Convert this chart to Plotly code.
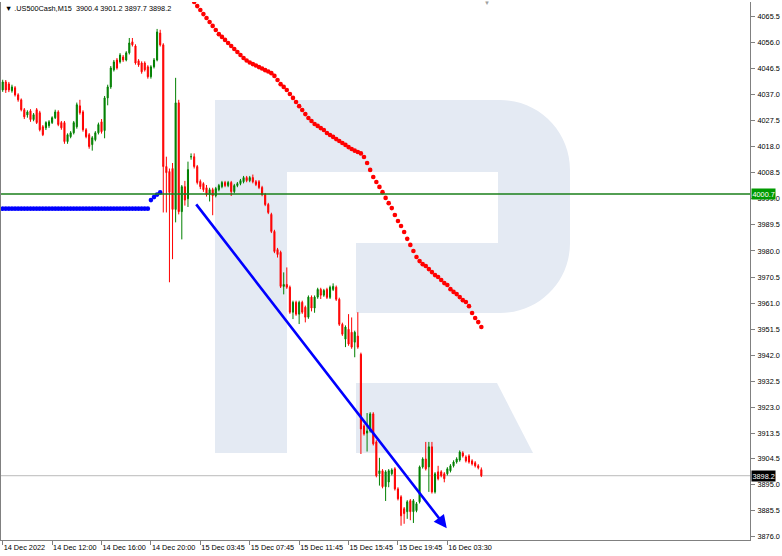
import plotly.graph_objects as go

TITLE = "\u25bc .US500Cash,M15  3900.4 3901.2 3897.7 3898.2"

x_tick_bars = [0, 16, 32, 48, 64, 80, 96, 112, 128, 144]
x_tick_labels = ["14 Dec 2022", "14 Dec 12:00", "14 Dec 16:00", "14 Dec 20:00",
                 "15 Dec 03:45", "15 Dec 07:45", "15 Dec 11:45", "15 Dec 15:45",
                 "15 Dec 19:45", "16 Dec 03:30"]
y_tick_values = [4065.5, 4056.0, 4046.5, 4037.0, 4027.5, 4018.0, 4008.5, 3999.0,
                 3989.5, 3980.0, 3970.5, 3961.0, 3951.5, 3942.0, 3932.5, 3923.0,
                 3913.5, 3904.5, 3895.0, 3885.5, 3876.0]

open_ = [4038.6, 4041.5, 4040.8, 4038.3, 4039.4, 4036.8, 4035.0, 4031.4, 4029.5, 4031.0,
         4027.8, 4031.4, 4030.3, 4025.2, 4024.8, 4025.6, 4026.7, 4028.5, 4030.6, 4026.7,
         4026.7, 4019.8, 4021.6, 4023.0, 4025.2, 4032.8, 4030.6, 4024.1, 4022.3, 4018.7,
         4020.5, 4023.0, 4027.0, 4023.8, 4035.7, 4039.7, 4045.9, 4049.5, 4048.8, 4050.6,
         4049.5, 4052.1, 4056.1, 4054.6, 4049.2, 4048.4, 4048.4, 4047.0, 4043.4, 4047.0,
         4049.5, 4059.3, 4055.0, 4010.7, 4008.9, 4010.0, 3995.1, 4033.9, 3994.3, 4003.4,
         3999.0, 4014.3, 4014.3, 4010.7, 4005.3, 4004.5, 4003.0, 4000.5, 4002.3, 4000.1,
         4002.3, 4003.4, 4004.9, 4003.8, 4004.9, 4001.6, 4003.8, 4004.5, 4005.2, 4006.7,
         4005.6, 4006.7, 4005.2, 4005.2, 4003.1, 4000.5, 3996.9, 3993.3, 3987.1, 3980.5,
         3979.5, 3967.1, 3967.8, 3966.8, 3957.7, 3961.3, 3957.0, 3961.3, 3959.5, 3955.9,
         3963.2, 3959.2, 3963.2, 3966.0, 3963.9, 3966.0, 3963.1, 3966.0, 3966.8, 3962.4,
         3953.3, 3947.9, 3951.5, 3950.4, 3946.8, 3949.0, 3942.4, 3916.3, 3913.7, 3914.5,
         3920.7, 3910.5, 3898.9, 3900.0, 3894.2, 3895.9, 3898.9, 3900.7, 3893.4, 3890.5,
         3886.2, 3885.1, 3889.1, 3885.1, 3885.5, 3888.7, 3901.4, 3904.3, 3901.4, 3908.7,
         3892.3, 3899.6, 3899.6, 3898.9, 3898.9, 3900.0, 3901.8, 3903.2, 3903.9, 3906.5,
         3905.0, 3905.4, 3903.6, 3902.9, 3901.8, 3900.4]
high = [4042.3, 4042.2, 4041.5, 4040.5, 4040.0, 4037.4, 4035.5, 4032.0, 4031.2, 4031.6,
        4030.2, 4032.0, 4031.0, 4025.8, 4027.2, 4027.6, 4029.0, 4031.4, 4031.2, 4027.3,
        4027.3, 4022.8, 4023.6, 4027.3, 4034.0, 4035.0, 4031.2, 4024.7, 4022.9, 4021.8,
        4023.6, 4026.7, 4028.0, 4036.4, 4040.5, 4047.3, 4049.5, 4050.2, 4052.0, 4051.3,
        4052.7, 4057.5, 4057.5, 4055.2, 4049.8, 4049.0, 4049.0, 4047.6, 4047.6, 4050.2,
        4060.8, 4060.5, 4055.6, 4014.3, 4010.0, 4012.0, 4043.0, 4035.0, 4004.0, 4005.5,
        4012.5, 4015.5, 4015.5, 4011.3, 4006.0, 4005.0, 4004.0, 4003.0, 4003.0, 4003.3,
        4004.4, 4005.5, 4005.5, 4005.5, 4005.5, 4004.4, 4005.1, 4006.2, 4007.3, 4007.3,
        4007.3, 4007.8, 4005.8, 4005.8, 4003.7, 4001.1, 3997.5, 3993.9, 3987.7, 3981.1,
        3980.1, 3972.2, 3974.0, 3967.4, 3961.9, 3961.9, 3961.9, 3961.9, 3960.1, 3963.8,
        3963.8, 3963.8, 3966.6, 3966.6, 3966.2, 3966.6, 3967.4, 3968.2, 3967.4, 3963.0,
        3953.9, 3952.9, 3957.0, 3955.8, 3951.0, 3957.7, 3943.0, 3916.9, 3921.0, 3921.3,
        3921.3, 3911.1, 3904.7, 3900.6, 3900.2, 3900.6, 3900.9, 3901.3, 3894.0, 3891.1,
        3886.8, 3889.3, 3889.7, 3889.7, 3888.6, 3901.9, 3904.9, 3910.5, 3910.5, 3910.5,
        3899.5, 3901.8, 3900.2, 3899.5, 3901.3, 3902.4, 3903.8, 3904.9, 3907.4, 3907.1,
        3905.6, 3906.0, 3904.2, 3903.5, 3902.4, 3901.2]
low = [4037.9, 4037.5, 4037.8, 4037.6, 4036.2, 4034.3, 4030.8, 4028.0, 4028.5, 4027.0,
       4027.2, 4026.2, 4023.5, 4021.8, 4024.0, 4024.8, 4026.2, 4028.0, 4025.4, 4024.1,
       4019.0, 4019.0, 4021.0, 4022.4, 4024.5, 4029.6, 4023.4, 4021.0, 4017.2, 4016.5,
       4019.9, 4022.4, 4022.7, 4021.0, 4033.0, 4039.0, 4045.3, 4046.0, 4048.2, 4048.8,
       4049.0, 4051.5, 4054.4, 4047.8, 4047.0, 4044.5, 4045.3, 4042.7, 4042.7, 4046.4,
       4049.0, 4054.4, 3994.0, 3994.0, 3968.6, 3977.0, 3990.4, 3993.3, 3984.2, 3996.5,
       3996.0, 4013.2, 4010.0, 4004.2, 4002.5, 4001.5, 3999.8, 3998.0, 3993.0, 3999.5,
       4001.7, 4002.8, 4003.2, 4003.2, 4000.0, 4001.0, 4003.2, 4003.9, 4004.6, 4005.0,
       4005.0, 4004.6, 4003.6, 4002.5, 3999.9, 3996.3, 3993.4, 3986.5, 3979.2, 3977.6,
       3966.5, 3964.2, 3966.2, 3957.1, 3955.2, 3956.4, 3953.4, 3957.1, 3954.0, 3955.3,
       3958.0, 3957.5, 3962.6, 3962.5, 3963.3, 3962.5, 3962.5, 3965.4, 3961.8, 3952.7,
       3949.1, 3945.0, 3945.5, 3944.4, 3941.3, 3944.4, 3906.1, 3912.8, 3907.0, 3913.9,
       3909.2, 3897.6, 3894.6, 3893.6, 3889.0, 3894.0, 3898.3, 3892.8, 3889.2, 3880.0,
       3880.7, 3882.5, 3882.0, 3881.0, 3884.9, 3888.1, 3900.8, 3900.1, 3892.3, 3891.7,
       3891.7, 3896.5, 3897.6, 3895.8, 3898.3, 3899.4, 3901.2, 3902.6, 3903.3, 3904.8,
       3903.0, 3902.6, 3901.9, 3901.2, 3900.5, 3897.7]
close = [4041.5, 4038.6, 4038.6, 4039.7, 4036.8, 4035.0, 4031.4, 4028.8, 4030.6, 4027.8,
         4029.6, 4026.7, 4024.1, 4022.3, 4026.7, 4027.0, 4028.5, 4030.6, 4026.0, 4024.8,
         4019.8, 4022.3, 4023.0, 4026.7, 4033.2, 4030.3, 4024.1, 4021.6, 4018.0, 4021.2,
         4023.0, 4026.0, 4023.4, 4035.7, 4039.7, 4046.6, 4048.8, 4046.6, 4051.3, 4049.5,
         4052.1, 4055.7, 4055.0, 4048.4, 4047.7, 4045.2, 4045.9, 4043.4, 4047.0, 4049.5,
         4059.7, 4055.0, 4010.7, 4008.5, 4001.3, 3995.1, 4033.9, 3994.3, 4003.4, 3998.5,
         4009.6, 4014.3, 4010.7, 4004.9, 4003.4, 4002.3, 4000.5, 4002.3, 4000.1, 4002.7,
         4003.8, 4004.9, 4003.8, 4004.9, 4001.6, 4003.8, 4004.5, 4005.6, 4006.7, 4005.6,
         4006.7, 4005.2, 4004.2, 4003.1, 4000.5, 3996.9, 3994.0, 3987.1, 3979.8, 3978.7,
         3967.1, 3967.8, 3966.8, 3957.7, 3961.3, 3957.0, 3961.3, 3957.7, 3955.9, 3963.2,
         3959.2, 3963.2, 3966.0, 3963.9, 3965.6, 3963.1, 3966.8, 3967.1, 3962.4, 3953.3,
         3949.7, 3952.3, 3946.1, 3945.0, 3950.4, 3945.0, 3915.2, 3913.4, 3914.5, 3920.7,
         3909.8, 3898.2, 3900.0, 3894.2, 3899.6, 3900.0, 3900.3, 3893.4, 3889.8, 3883.6,
         3884.4, 3888.7, 3885.1, 3889.1, 3888.0, 3901.4, 3904.3, 3900.7, 3908.7, 3892.3,
         3898.9, 3897.1, 3898.2, 3897.1, 3900.7, 3901.8, 3903.2, 3904.3, 3906.8, 3905.4,
         3903.6, 3903.2, 3902.5, 3901.8, 3901.1, 3898.2]

ma_red_first_bar = 61
ma_red = [4072.1, 4070.6, 4069.1, 4067.7, 4066.2, 4064.8, 4063.3, 4061.9, 4060.4, 4058.9,
          4057.9, 4056.8, 4055.7, 4054.6, 4053.5, 4052.4, 4051.3, 4050.2, 4049.3, 4048.6,
          4048.0, 4047.5, 4046.9, 4046.4, 4045.8, 4045.3, 4044.7, 4043.7, 4042.2, 4040.7,
          4039.7, 4038.6, 4037.1, 4035.7, 4034.2, 4032.7, 4031.3, 4029.8, 4028.4, 4027.3,
          4026.2, 4025.5, 4024.7, 4024.0, 4022.9, 4022.2, 4021.5, 4020.7, 4020.0, 4019.3,
          4018.6, 4017.8, 4017.1, 4016.5, 4016.0, 4015.5, 4014.2, 4012.0, 4009.5, 4006.9,
          4005.1, 4003.3, 4001.4, 3999.3, 3997.4, 3995.6, 3993.1, 3990.9, 3989.1, 3986.9,
          3984.4, 3982.2, 3980.0, 3977.8, 3976.3, 3975.2, 3974.5, 3973.4, 3972.3, 3971.2,
          3970.5, 3969.4, 3968.3, 3967.6, 3966.1, 3965.1, 3964.3, 3963.2, 3962.1, 3961.4,
          3959.9, 3957.4, 3955.6, 3954.1, 3952.3]

ma_blue_first_bar = 0
ma_blue = [3995.4] * 48 + [3998.5, 3999.6, 4000.5, 4001.3]

hline_level = 4000.7
bid_level = 3898.2
trend_bars = [62.3, 143.8]
trend_prices = [3997.5, 3879.1]

W, H = 782, 556
ML, MR, MT, MB = 1, 32, 2, 16
PW, PH = W - ML - MR, H - MT - MB


def px(xp):
    return (xp - ML) / PW


def py(yp):
    return (H - MB - yp) / PH


LOGO = "rgb(228,234,243)"

bars = list(range(len(close)))

fig = go.Figure()
fig.add_trace(go.Candlestick(
    x=bars, open=open_, high=high, low=low, close=close,
    increasing=dict(line=dict(color="#008000", width=1), fillcolor="#008000"),
    decreasing=dict(line=dict(color="#FF0000", width=1), fillcolor="#FF0000"),
    whiskerwidth=0, showlegend=False, hoverinfo="skip"))
fig.add_trace(go.Scatter(
    x=[ma_red_first_bar + i for i in range(len(ma_red))], y=ma_red, mode="markers",
    marker=dict(color="#FF0000", size=4.6), showlegend=False, hoverinfo="skip"))
fig.add_trace(go.Scatter(
    x=[ma_blue_first_bar + i for i in range(len(ma_blue))], y=ma_blue, mode="markers",
    marker=dict(color="#0000FF", size=4.6), showlegend=False, hoverinfo="skip"))

shapes = []
shapes.append(dict(type="rect", xref="paper", yref="paper", layer="below",
                   x0=px(215), x1=px(287), y0=py(453), y1=py(100),
                   fillcolor=LOGO, line=dict(width=0)))
bowl = (f"M{px(215)},{py(100)} L{px(500)},{py(100)} "
        f"C{px(539)},{py(100)} {px(570)},{py(131)} {px(570)},{py(170)} "
        f"L{px(570)},{py(243)} "
        f"C{px(570)},{py(282)} {px(539)},{py(313)} {px(500)},{py(313)} "
        f"L{px(356)},{py(313)} L{px(356)},{py(243)} L{px(498)},{py(243)} "
        f"L{px(498)},{py(172)} L{px(215)},{py(172)} Z")
shapes.append(dict(type="path", xref="paper", yref="paper", layer="below", path=bowl,
                   fillcolor=LOGO, line=dict(width=0)))
leg = (f"M{px(356)},{py(383)} L{px(497)},{py(383)} L{px(533)},{py(453)} "
       f"L{px(356)},{py(453)} Z")
shapes.append(dict(type="path", xref="paper", yref="paper", layer="below", path=leg,
                   fillcolor=LOGO, line=dict(width=0)))
shapes.append(dict(type="line", xref="paper", yref="y", x0=0, x1=1,
                   y0=bid_level, y1=bid_level, line=dict(color="#C8C8C8", width=1.3),
                   layer="below"))
shapes.append(dict(type="line", xref="paper", yref="y", x0=0, x1=1,
                   y0=hline_level, y1=hline_level, line=dict(color="#1A7F1A", width=1.6)))

FONT = "Liberation Sans, Arial, sans-serif"
FS = 7.3
annotations = [
    dict(x=trend_bars[1], y=trend_prices[1], ax=trend_bars[0], ay=trend_prices[0],
         xref="x", yref="y", axref="x", ayref="y", text="", showarrow=True,
         arrowhead=2, arrowsize=1.0, arrowwidth=2.6, arrowcolor="#0000FF", standoff=0),
    dict(x=px(4), y=py(8), xref="paper", yref="paper", text=TITLE, showarrow=False,
         xanchor="left", yanchor="middle", font=dict(family=FONT, size=FS, color="#000000"),
         bgcolor="#FFFFFF", borderpad=0),
    dict(x=px(487), y=py(3), xref="paper", yref="paper", text="\u25bc", showarrow=False,
         xanchor="center", yanchor="middle", font=dict(family=FONT, size=6, color="#A0A0A0")),
    dict(x=1, y=hline_level, xref="paper", yref="y", text=f"{hline_level:.1f}",
         showarrow=False, xanchor="left", yanchor="middle", xshift=1,
         font=dict(family=FONT, size=FS, color="#FFFFFF"), bgcolor="#009A00", borderpad=0.5),
    dict(x=1, y=bid_level, xref="paper", yref="y", text=f"{bid_level:.1f}",
         showarrow=False, xanchor="left", yanchor="middle", xshift=1,
         font=dict(family=FONT, size=FS, color="#FFFFFF"), bgcolor="#000000", borderpad=0.5),
]

fig.update_layout(
    width=W, height=H, margin=dict(l=ML, r=MR, t=MT, b=MB, autoexpand=False),
    paper_bgcolor="#FFFFFF", plot_bgcolor="#FFFFFF",
    shapes=shapes, annotations=annotations, boxgap=0.5,
    font=dict(family=FONT, size=FS, color="#000000"),
    xaxis=dict(range=[-0.55, 242.0], rangeslider=dict(visible=False), showgrid=False,
               zeroline=False, showline=True, linecolor="#808080", linewidth=1,
               tickmode="array", tickvals=x_tick_bars, ticktext=x_tick_labels,
               ticks="outside", ticklen=4, tickcolor="#808080", tickangle=0,
               automargin=False, ticklabelstandoff=0,
               ticklabelposition="outside right", tickfont=dict(family=FONT, size=FS)),
    yaxis=dict(range=[3874.8, 4070.6], side="right", showgrid=False, zeroline=False,
               showline=True, mirror=True, linecolor="#808080", linewidth=1,
               tickmode="array", tickvals=y_tick_values,
               ticktext=[f"{v:.1f}" for v in y_tick_values], automargin=False,
               ticks="outside", ticklen=4, tickcolor="#808080", ticklabelstandoff=1,
               tickfont=dict(family=FONT, size=FS)),
)

fig.write_html("out.html", config={"displayModeBar": False},
               post_script="document.body.style.margin='0';")
